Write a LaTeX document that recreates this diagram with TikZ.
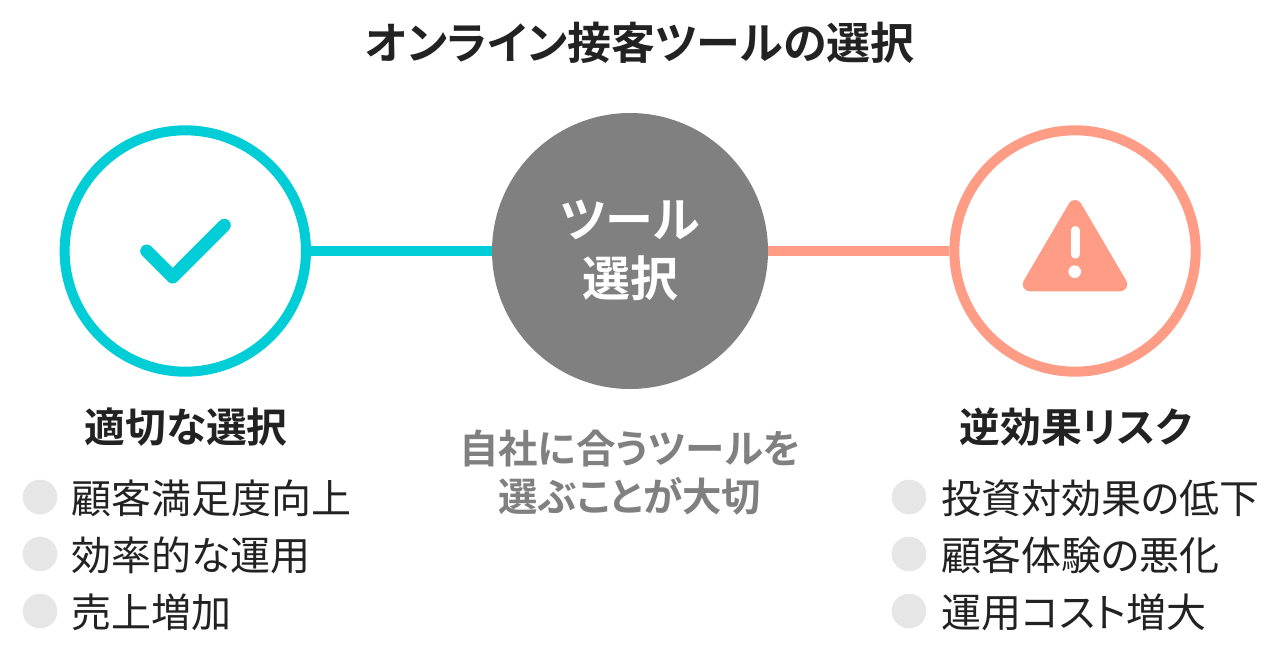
\documentclass[tikz,border=0pt]{standalone}
\usepackage{fontspec}
\setmainfont[RawFeature=+palt]{Noto Sans CJK JP}
\newfontfamily\jpbold[RawFeature=+palt]{Noto Sans CJK JP Bold}
\definecolor{tealc}{HTML}{00CDD6}
\definecolor{salmonc}{HTML}{FF9C86}
\definecolor{greyc}{HTML}{808080}
\definecolor{dotc}{HTML}{E6E6E6}
\definecolor{inkc}{HTML}{222222}
\tikzset{
  ringteal/.style={circle,draw=tealc,line width=7.5pt,minimum size=181pt,inner sep=0pt},
  ringsalmon/.style={circle,draw=salmonc,line width=7.5pt,minimum size=181pt,inner sep=0pt},
  hub/.style={circle,fill=greyc,minimum size=207pt,inner sep=0pt},
  heading/.style={text=inkc,font=\jpbold\fontsize{30.6}{34}\selectfont,anchor=center,inner sep=0pt},
  item/.style={text=inkc,font=\fontsize{30}{34}\selectfont,anchor=west,inner sep=0pt},
  bullet/.style={circle,fill=dotc,minimum size=26pt,inner sep=0pt},
  grey text/.style={text=greyc,font=\jpbold\fontsize{29.6}{32}\selectfont,inner sep=0pt}
}
\begin{document}
\begin{tikzpicture}[x=0.75pt,y=-0.75pt]
\useasboundingbox (0,0) rectangle (1280,650);

\node[text=inkc,font=\jpbold\fontsize{33}{36}\selectfont,inner sep=0pt] (title) at (640,43) {オンライン接客ツールの選択};

\node[ringteal] (good) at (185.3,251) {};
\node[ringsalmon] (risk) at (1075,251) {};
\node[hub] (tool) at (630,251) {};
\draw[tealc,line width=7.25pt] (good) -- (tool);
\draw[salmonc,line width=7.25pt] (tool) -- (risk);

\node[text=white,font=\jpbold\fontsize{36}{38}\selectfont,inner sep=0pt] (toola) at (630,220) {ツール};
\node[text=white,font=\jpbold\fontsize{36}{38}\selectfont,inner sep=0pt] (toolb) at (630,278) {選択};

% check mark
\draw[tealc,line width=9.75pt,line cap=round,line join=round] (146.7,251) -- (172.7,277) -- (224.3,225.3);

% warning sign
\fill[salmonc,draw=salmonc,line width=10.5pt,line join=round] (1075,207) -- (1120.3,284.3) -- (1029.7,284.3) -- cycle;
\draw[white,line width=6.75pt,line cap=round] (1075,230.5) -- (1075,254.2);
\fill[white] (1074.7,271.7) circle (6.3);

\node[heading] (gooda) at (186,427) {適切な選択};
\node[heading] (riska) at (1076,427) {逆効果リスク};
\node[grey text] (msga) at (630,448.5) {自社に合うツールを};
\node[grey text] (msgb) at (630,496.5) {選ぶことが大切};

\node[bullet] (d1) at (40,497) {};
\node[bullet] (d2) at (40,554) {};
\node[bullet] (d3) at (40,611) {};
\node[item] (t1) at (71,498) {顧客満足度向上};
\node[item] (t2) at (71,555) {効率的な運用};
\node[item] (t3) at (71,612) {売上増加};

\node[bullet] (e1) at (909,497) {};
\node[bullet] (e2) at (909,554) {};
\node[bullet] (e3) at (909,611) {};
\node[item] (u1) at (941,498) {投資対効果の低下};
\node[item] (u2) at (941,555) {顧客体験の悪化};
\node[item] (u3) at (941,612) {運用コスト増大};
\end{tikzpicture}
\end{document}
